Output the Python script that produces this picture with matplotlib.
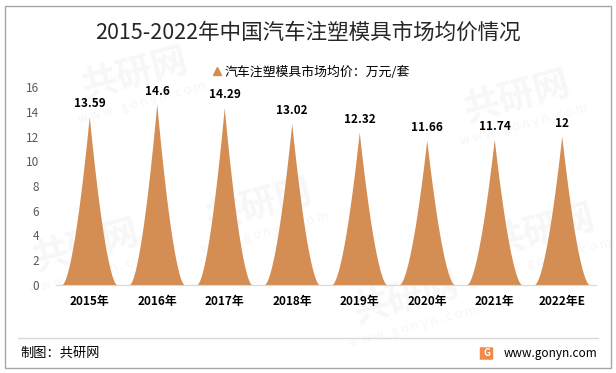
import numpy as np
import matplotlib.pyplot as plt
from matplotlib.patches import Polygon, Rectangle, FancyBboxPatch
from matplotlib.lines import Line2D

plt.rcParams['font.family'] = ['Noto Sans CJK SC', 'DejaVu Sans']

years = ["2015年", "2016年", "2017年", "2018年", "2019年", "2020年", "2021年", "2022年E"]
prices = [13.59, 14.6, 14.29, 13.02, 12.32, 11.66, 11.74, 12]
value_labels = ["13.59", "14.6", "14.29", "13.02", "12.32", "11.66", "11.74", "12"]
yticks = [0, 2, 4, 6, 8, 10, 12, 14, 16]

title = "2015-2022年中国汽车注塑模具市场均价情况"
series_name = "汽车注塑模具市场均价：万元/套"
bar_color = "#D48D52"

fig = plt.figure(figsize=(6.16, 3.73), dpi=100)
fig.patch.set_facecolor("white")

# background layer for the faint watermarks
bg = fig.add_axes([0, 0, 1, 1], zorder=-10)
bg.set_xlim(0, 1)
bg.set_ylim(0, 1)
bg.axis("off")
for wx, wy in [(0.22, 0.8), (0.84, 0.74), (0.42, 0.45), (0.14, 0.34), (0.66, 0.2), (0.88, 0.38)]:
    bg.text(wx, wy, "共研网", fontsize=26, fontweight="bold", color="#F7F7F7", rotation=15,
            ha="center", va="center")
    bg.text(wx + 0.01, wy - 0.075, "w w w . g o n y n . c o m", fontsize=9, color="#F6F6F6",
            rotation=15, ha="center", va="center")

# outer frame
fig.add_artist(Rectangle((5 / 616, 5 / 373), 606 / 616, 362 / 373, transform=fig.transFigure,
                         fill=False, edgecolor="#A6A6A6", linewidth=1.0))

ax = fig.add_axes([56 / 616, 1 - 285 / 373, 540 / 616, 198 / 373])
ax.set_facecolor("none")
x = np.arange(len(years))
half = 0.405
u = np.linspace(-1, 1, 201)
for xi, h in zip(x, prices):
    ys = h * (1 - np.abs(u)) ** 1.65
    pts = np.column_stack([xi + u * half, ys])
    ax.add_patch(Polygon(pts, closed=True, facecolor=bar_color, edgecolor="none", zorder=2))
    ax.text(xi, h + 0.55, value_labels[xi], ha="center", va="bottom", fontsize=8.5,
            fontweight="bold", color="black")

ax.set_xlim(-0.5, len(years) - 0.5)
ax.set_ylim(0, 16)
ax.set_yticks(yticks)
ax.set_xticks(x)
ax.set_xticklabels(years, fontsize=8.5, fontweight="bold")
ax.tick_params(axis="y", length=0, labelsize=8.5, labelcolor="#595959", pad=12)
ax.tick_params(axis="x", length=0, pad=7)
for s in ["top", "right", "left"]:
    ax.spines[s].set_visible(False)
ax.spines["bottom"].set_color("#D9D9D9")

fig.text(0.5, 1 - 33 / 373, title, ha="center", va="center", fontsize=15.5, color="#262626")

handle = Line2D([], [], marker="^", linestyle="none", color=bar_color, markersize=6)
fig.legend([handle], [series_name], loc="center", bbox_to_anchor=(310 / 616, 1 - 72 / 373),
           frameon=False, fontsize=9.3, handletextpad=0.1, handlelength=1.0)

# footer
fig.add_artist(Line2D([18 / 616, 598 / 616], [1 - 338 / 373, 1 - 338 / 373], transform=fig.transFigure,
                      color="#D9D9D9", linewidth=1.0))
fig.text(20 / 616, 1 - 353 / 373, "制图：共研网", ha="left", va="center", fontsize=9.5, color="black")
fig.text(597 / 616, 1 - 353 / 373, "www.gonyn.com", ha="right", va="center", fontsize=8.5,
         color="black")
fig.add_artist(FancyBboxPatch((481 / 616, 1 - 359 / 373), 11 / 616, 11 / 373,
                              boxstyle="round,pad=0.002", transform=fig.transFigure,
                              facecolor="#F08A4B", edgecolor="none"))
fig.text(486.5 / 616, 1 - 353.5 / 373, "G", ha="center", va="center", fontsize=7, fontweight="bold",
         color="white")

fig.savefig("out.png", dpi=100)
